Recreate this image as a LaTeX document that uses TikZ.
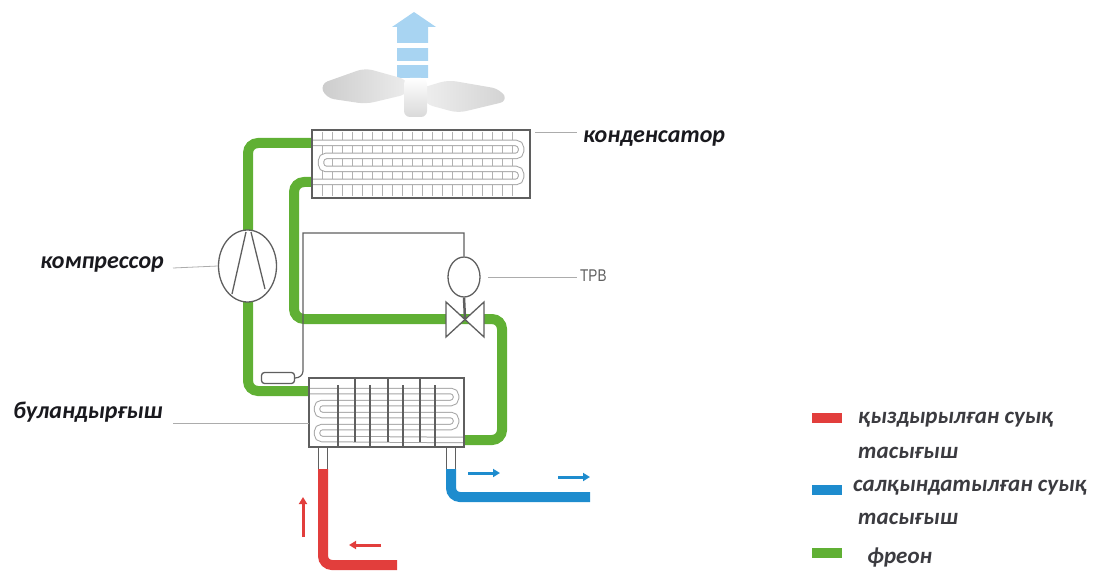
\documentclass[tikz,border=0pt]{standalone}
\usepackage{fontspec}
\setmainfont{Carlito}
\newfontfamily\valvefont{Liberation Sans}
\usetikzlibrary{arrows.meta,shapes.geometric}

\definecolor{freon}{RGB}{96,176,52}
\definecolor{hotline}{RGB}{226,62,60}
\definecolor{coldline}{RGB}{30,140,206}
\definecolor{airblue}{RGB}{168,212,242}
\definecolor{frame}{RGB}{95,95,95}
\definecolor{ink}{RGB}{25,25,30}

\begin{document}
\begin{tikzpicture}[x=1pt,y=-1pt,
  pipe/.style={line width=10pt, rounded corners=10pt},
  coil/.style={draw=gray!70, line width=1pt, double=white, double distance=4.5pt, rounded corners=5pt},
  fin/.style={draw=gray!60, line width=0.8pt},
  baffle/.style={draw=frame, line width=1.2pt},
  housing/.style={draw=frame, line width=1.3pt},
  leader/.style={draw=gray!65, line width=0.8pt},
  lbl/.style={font=\fontsize{24}{28}\selectfont\bfseries\itshape, text=ink, inner sep=0pt},
  legtext/.style={font=\fontsize{23}{27}\selectfont\bfseries\itshape, text=ink!85, inner sep=0pt, anchor=west},
  swatch/.style={minimum width=30pt, minimum height=10pt, inner sep=0pt},
  flow/.style={line width=3pt, -{Triangle[length=7pt,width=8pt]}},
  part/.style={draw=frame, line width=1.3pt, fill=white, inner sep=0pt}
]
\useasboundingbox (0,0) rectangle (1102,572);

% ---------- fan and warm air stream ----------
\fill[airblue] (397,78) -- (397,27) -- (392,27) -- (414,12) -- (436,27) -- (428,27) -- (428,78) -- cycle;
\fill[white] (396,43) rectangle (429,48);
\fill[white] (396,61) rectangle (429,65);
\shade[left color=gray!40, right color=gray!15, rounded corners=8pt]
  (320,84) -- (365,68) -- (408,80) -- (408,94) -- (366,104) -- (326,98) -- cycle;
\shade[left color=gray!12, right color=gray!35, rounded corners=8pt]
  (418,89) -- (448,80) -- (500,89) -- (508,101) -- (458,113) -- (425,104) -- cycle;
\shade[top color=white, bottom color=gray!30, rounded corners=6pt]
  (404,78) rectangle (427,117);

% ---------- named points of the refrigerant circuit ----------
\coordinate (condIn)   at (312,143);
\coordinate (condOut)  at (312,182);
\coordinate (evapIn)   at (464,440);
\coordinate (evapOut)  at (309,391);
\coordinate (coldOut)  at (451,469);
\coordinate (hotIn)    at (323,469);

% ---------- freon lines ----------
\draw[pipe, freon] (condIn) -- (248,143) -- (248,391) -- (evapOut);
\draw[pipe, freon] (condOut) -- (294,182) -- (294,319) -- (502,319) -- (502,440) -- (evapIn);

% ---------- brine lines ----------
\draw[pipe, hotline, rounded corners=9pt] (hotIn) -- (323,565) -- (397,565);
\draw[pipe, coldline, rounded corners=9pt] (coldOut) -- (451,497) -- (590,497);

% ---------- condenser ----------
\fill[white] (312,130) rectangle (530,198);
\foreach \x in {322,332,...,512} \draw[fin] (\x,132) -- (\x,196);
\draw[coil] (condIn) -- (521,143) -- (521,156) -- (321,156) -- (321,169)
  -- (521,169) -- (521,182) -- (condOut);
\draw[housing] (312,130) rectangle (530,198);
\node[inner sep=0pt, minimum width=218pt, minimum height=68pt] (cond) at (421,164) {};

% ---------- evaporator ----------
\fill[white] (309,378) rectangle (464,447);
\draw[coil] (evapOut) -- (456,391) -- (456,403) -- (317,403) -- (317,415)
  -- (456,415) -- (456,427) -- (317,427) -- (317,439) -- (evapIn);
\foreach \x in {355,388,420} \draw[baffle] (\x,378) -- (\x,442);
\foreach \x in {338,370,403,435} \draw[baffle] (\x,385) -- (\x,447);
\draw[housing] (309,378) rectangle (464,447);
\node[inner sep=0pt, minimum width=155pt, minimum height=69pt] (evap) at (386.5,412.5) {};
% connection stubs
\draw[frame, line width=1pt] (318.5,447) -- (318.5,469) (327.5,447) -- (327.5,469);
\draw[frame, line width=1pt] (446.5,447) -- (446.5,469) (455.5,447) -- (455.5,469);

% ---------- compressor ----------
\node[part, ellipse, minimum width=58pt, minimum height=72pt] (comp) at (247.5,266) {};
\draw[frame, line width=1.3pt] (232,294) -- (246,232) (251,232) -- (265,289);

% ---------- expansion valve with sensing bulb ----------
\node[part, ellipse, minimum width=32pt, minimum height=40pt] (bulb) at (464,277) {};
\draw[frame, line width=2.5pt] (bulb.south) -- (465,319);
\draw[frame, line width=1.3pt, fill=white] (446,302) -- (484,337) -- (484,302) -- (446,337) -- cycle;
\coordinate (valve) at (465,319);
\node[part, rounded corners=3pt, minimum width=33pt, minimum height=11pt] (sens) at (278,378) {};
\draw[frame, line width=1.2pt] (bulb.north) -- (464,233) -- (303,233) -- (303,371)
  to[out=-90, in=0] (sens.east);

% ---------- flow arrows ----------
\draw[flow, hotline] (303,537) -- (303,497);
\draw[flow, hotline] (381,545) -- (349,545);
\draw[flow, coldline] (468,473) -- (500,473);
\draw[flow, coldline] (558,477) -- (590,477);

% ---------- labels ----------
\node[lbl, anchor=west] (condLbl) at (583,139) {конденсатор};
\draw[leader] (535,132) -- (577,132);
\node[lbl, anchor=east] (compLbl) at (164,264) {компрессор};
\draw[leader] (173,268) -- (comp.west);
\node[font=\valvefont\fontsize{17}{20}\selectfont, text=gray!75!black, inner sep=0pt, anchor=west, xscale=0.8] (valveLbl) at (580,276) {ТРВ};
\draw[leader] (488,277) -- (577,277);
\node[lbl, anchor=east] (evapLbl) at (163,412) {буландырғыш};
\draw[leader] (173,423) -- (evap.west |- 0,423);

% ---------- legend ----------
\node[swatch, fill=hotline] (keyHot) at (827,418) {};
\node[legtext] (keyHotA) at (858,420) {қыздырылған суық};
\node[legtext] (keyHotB) at (858,453) {тасығыш};
\node[swatch, fill=coldline] (keyCold) at (827,490) {};
\node[legtext] (keyColdA) at (853,488) {салқындатылған суық};
\node[legtext] (keyColdB) at (858,519) {тасығыш};
\node[swatch, fill=freon] (keyFreon) at (827,553) {};
\node[legtext] (keyFreonA) at (867,558) {фреон};
\end{tikzpicture}
\end{document}
